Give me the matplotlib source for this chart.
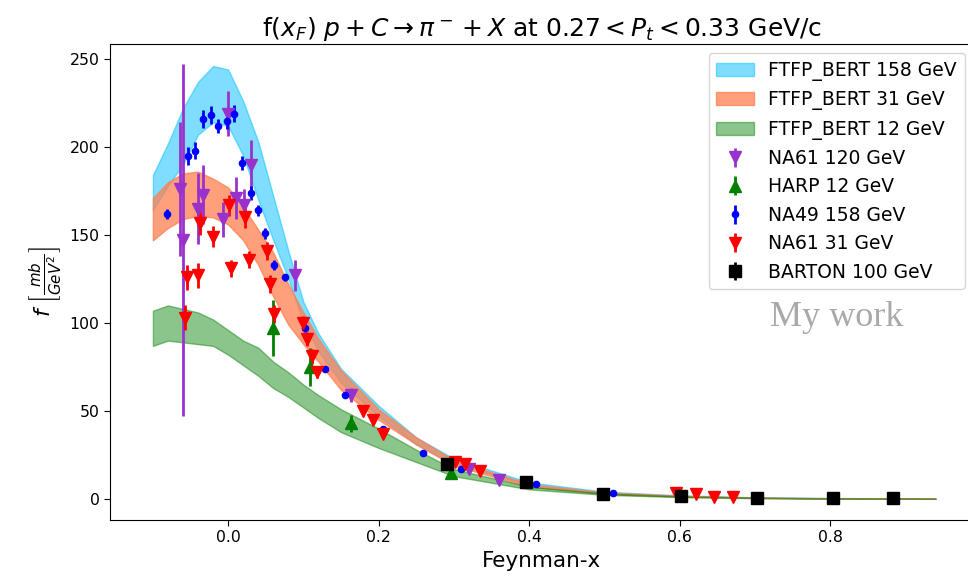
import numpy as np
import matplotlib
matplotlib.use('Agg')
import matplotlib.pyplot as plt

# ---- simulation bands (FTFP_BERT), lower / upper edge ----
band_x = [-0.10, -0.08, -0.06, -0.04, -0.02, 0.00, 0.02, 0.04, 0.06, 0.08,
          0.10, 0.12, 0.15, 0.20, 0.25, 0.30, 0.40, 0.50, 0.60, 0.70, 0.80, 0.94]

b158_hi = [184, 202, 222, 237, 246, 244, 226, 203, 172, 141,
           112, 94, 74, 53, 35, 23, 9.5, 4.2, 2.1, 1.0, 0.6, 0.3]
b158_lo = [164, 178, 190, 207, 214, 212, 195, 170, 147, 125,
           100, 84, 66, 47, 31, 20, 8.0, 3.4, 1.6, 0.7, 0.4, 0.2]

b31_hi = [171, 180, 185, 186, 182, 177, 166, 153, 140, 122,
          106, 91, 73, 51, 35, 22, 8.5, 3.8, 1.9, 0.9, 0.5, 0.3]
b31_lo = [147, 154, 159, 161, 160, 156, 147, 133, 115, 99,
          88, 78, 62, 45, 31, 19, 7.0, 2.9, 1.3, 0.6, 0.3, 0.15]

b12_hi = [107, 110, 108, 106, 102, 96, 90, 86, 78, 72,
          65, 59, 51, 40, 28, 17, 7.0, 3.2, 1.6, 0.8, 0.4, 0.2]
b12_lo = [87, 90, 89, 88, 87, 82, 76, 70, 63, 58,
          52, 46, 38, 29, 21, 13, 5.5, 2.4, 1.1, 0.5, 0.2, 0.1]

# ---- data points ----
na61_120_x = [-0.064, -0.060, -0.040, -0.033, -0.007, 0.000, 0.010, 0.021, 0.031, 0.089, 0.163, 0.320, 0.360]
na61_120_y = [176, 147, 165, 173, 159, 219, 171, 167, 190, 127, 59, 17, 11]
na61_120_e = [38, 100, 20, 17, 10, 13, 12, 9, 14, 9, 4, 1, 1]

harp_x = [0.060, 0.109, 0.163, 0.296]
harp_y = [97, 75, 43, 15]
harp_e = [16, 11, 5, 1.5]

na49_x = [-0.081, -0.053, -0.044, -0.033, -0.023, -0.013, -0.001, 0.008, 0.018, 0.031, 0.040,
          0.049, 0.061, 0.076, 0.102, 0.129, 0.155, 0.206, 0.259, 0.310, 0.409, 0.512]
na49_y = [162, 195, 198, 216, 218, 212, 215, 219, 191, 174, 164,
          151, 133, 126, 97, 74, 59, 40, 26, 17, 8.5, 3.4]
na49_e = [3, 5, 5, 5, 5, 4, 5, 5, 4, 4, 3,
          3, 3, 2, 2, 1.5, 1, 1, 0.5, 0.5, 0.3, 0.2]

na61_31_x = [-0.057, -0.055, -0.040, -0.038, -0.020, 0.001, 0.004, 0.023, 0.028, 0.051, 0.056, 0.061, 0.100,
             0.105, 0.112, 0.118, 0.179, 0.192, 0.206, 0.302, 0.315, 0.334, 0.595, 0.621, 0.646, 0.671]
na61_31_y = [103, 126, 127, 157, 149, 167, 131, 160, 136, 141, 122, 105, 100,
             91, 81, 72, 50, 45, 37, 21, 20, 16, 3.2, 2.8, 1.3, 1.3]
na61_31_e = [7, 7, 7, 7, 6, 6, 5, 6, 5, 5, 5, 5, 4,
             4, 4, 3, 3, 2, 2, 1, 1, 1, 0.3, 0.3, 0.2, 0.2]

barton_x = [0.291, 0.396, 0.498, 0.602, 0.703, 0.804, 0.884]
barton_y = [20, 9.5, 2.8, 1.9, 0.6, 0.5, 0.5]
barton_e = [1, 0.5, 0.3, 0.2, 0.1, 0.1, 0.1]

fig = plt.figure(figsize=(9.68, 5.8), dpi=100)
ax = fig.add_axes([110/968, 1 - 520/580, 864/968, 476/580])

ax.fill_between(band_x, b158_lo, b158_hi, color='deepskyblue', alpha=0.5, label='FTFP_BERT 158 GeV')
ax.fill_between(band_x, b31_lo, b31_hi, color='coral', alpha=0.75, label='FTFP_BERT 31 GeV')
ax.fill_between(band_x, b12_lo, b12_hi, color='green', alpha=0.45, label='FTFP_BERT 12 GeV')

ax.errorbar(na61_120_x, na61_120_y, yerr=na61_120_e, fmt='v', color='darkorchid', ms=8.5, elinewidth=2, label='NA61 120 GeV')
ax.errorbar(harp_x, harp_y, yerr=harp_e, fmt='^', color='green', ms=8.5, elinewidth=2, label='HARP 12 GeV')
ax.errorbar(na49_x, na49_y, yerr=na49_e, fmt='o', color='blue', ms=4.5, elinewidth=2, label='NA49 158 GeV')
ax.errorbar(na61_31_x, na61_31_y, yerr=na61_31_e, fmt='v', color='red', ms=8.5, elinewidth=2, label='NA61 31 GeV')
ax.errorbar(barton_x, barton_y, yerr=barton_e, fmt='s', color='black', ms=8.5, elinewidth=2, label='BARTON 100 GeV')

ax.set_xlim(-0.157, 0.991)
ax.set_ylim(-11.9, 258.5)
ax.tick_params(labelsize=11.3, length=4)

ax.set_title(r'f($x_F$) $p + C \rightarrow \pi^- + X$ at $0.27 < P_t < 0.33$ GeV/c', fontsize=18)
ax.set_xlabel('Feynman-x', fontsize=15.5)
ax.set_ylabel(r'$f\ \left[\frac{mb}{GeV^2}\right]$', fontsize=15.5)

ax.legend(loc='upper right', fontsize=13.5)
ax.text(0.841, 0.426, 'My work', transform=ax.transAxes, fontsize=26, color='darkgray',
        family='Liberation Serif', ha='center', va='center')

fig.savefig('out.png', dpi=100)
